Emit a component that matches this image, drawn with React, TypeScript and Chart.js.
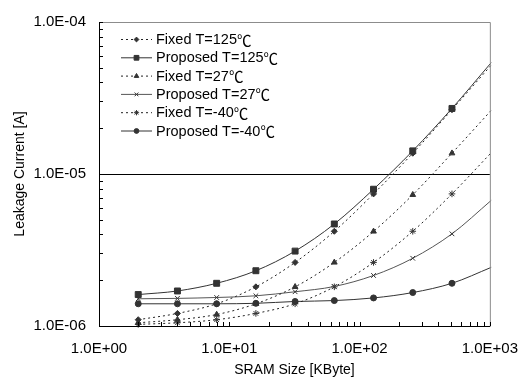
import React, { useEffect, useRef } from 'react';
import { Chart, registerables } from 'chart.js';
import { drawPoint } from 'chart.js/helpers';

Chart.register(...registerables);

// SRAM size in KByte (last point has no marker, curve runs to the frame edge)
const sizes = [2, 4, 8, 16, 32, 64, 128, 256, 512, 1024];
const fixed125 = [1.1e-6, 1.21e-6, 1.4e-6, 1.81e-6, 2.62e-6, 4.2e-6, 7.4e-6, 1.37e-5, 2.65e-5, 5.2e-5];
const proposed125 = [1.61e-6, 1.7e-6, 1.91e-6, 2.31e-6, 3.11e-6, 4.69e-6, 7.94e-6, 1.42e-5, 2.7e-5, 5.4e-5];
const fixed27 = [1.05e-6, 1.1e-6, 1.19e-6, 1.4e-6, 1.81e-6, 2.62e-6, 4.19e-6, 7.3e-6, 1.37e-5, 2.62e-5];
const proposed27 = [1.51e-6, 1.52e-6, 1.54e-6, 1.58e-6, 1.68e-6, 1.82e-6, 2.15e-6, 2.79e-6, 4.04e-6, 6.7e-6];
const fixedM40 = [1.025e-6, 1.05e-6, 1.1e-6, 1.21e-6, 1.4e-6, 1.81e-6, 2.62e-6, 4.2e-6, 7.4e-6, 1.38e-5];
const proposedM40 = [1.4e-6, 1.4e-6, 1.4e-6, 1.41e-6, 1.45e-6, 1.47e-6, 1.53e-6, 1.66e-6, 1.91e-6, 2.43e-6];

const seriesLabels = [
  'Fixed T=125℃',
  'Proposed T=125℃',
  'Fixed T=27℃',
  'Proposed T=27℃',
  'Fixed T=-40℃',
  'Proposed T=-40℃',
];

const xMajor = [1, 10, 100, 1000];

const FONT = '"Liberation Sans", Arial, sans-serif';
const CJK = '"Noto Sans CJK JP", "Noto Sans CJK SC", sans-serif';

function fmtExp(v: number): string {
  const e = Math.round(Math.log10(v));
  const sign = e < 0 ? '-' : '+';
  const a = Math.abs(e);
  return '1.0E' + sign + (a < 10 ? '0' + a : String(a));
}

function logTicks(minExp: number, maxExp: number) {
  const t: { value: number }[] = [];
  for (let e = minExp; e < maxExp; e++) {
    for (let m = 1; m <= 9; m++) t.push({ value: m * Math.pow(10, e) });
  }
  t.push({ value: Math.pow(10, maxExp) });
  return t;
}

function isMajor(v: number) {
  const l = Math.log10(v);
  return Math.abs(l - Math.round(l)) < 1e-6;
}

const frameAndTicks = {
  id: 'frameAndTicks',
  afterDraw(chart: any) {
    const { ctx, chartArea: a } = chart;
    const xs = chart.scales.x;
    const ys = chart.scales.y;
    ctx.save();
    ctx.strokeStyle = '#8c8c8c';
    ctx.lineWidth = 1;
    ctx.beginPath();
    ctx.moveTo(a.left, a.top + 0.5);
    ctx.lineTo(a.right + 0.5, a.top + 0.5);
    ctx.lineTo(a.right + 0.5, a.bottom);
    ctx.stroke();
    ctx.strokeStyle = '#000';
    ctx.beginPath();
    ctx.moveTo(a.left + 0.5, a.top);
    ctx.lineTo(a.left + 0.5, a.bottom + 0.5);
    ctx.lineTo(a.right + 0.5, a.bottom + 0.5);
    ctx.stroke();
    ctx.beginPath();
    ys.ticks.forEach((t: any) => {
      const p = Math.round(ys.getPixelForValue(t.value)) + 0.5;
      ctx.moveTo(a.left, p);
      ctx.lineTo(a.left + 4, p);
    });
    xs.ticks.forEach((t: any) => {
      const p = Math.round(xs.getPixelForValue(t.value)) + 0.5;
      ctx.moveTo(p, a.bottom);
      ctx.lineTo(p, a.bottom - 4);
    });
    ctx.stroke();
    ctx.restore();
  },
};

const legendPlugin = {
  id: 'customLegend',
  afterDraw(chart: any) {
    const { ctx } = chart;
    const x0 = 121;
    const x1 = 152;
    const textX = 156;
    const y0 = 39;
    const dy = 18.3;
    ctx.save();
    chart.data.datasets.forEach((ds: any, i: number) => {
      const y = y0 + i * dy;
      ctx.strokeStyle = ds.borderColor;
      ctx.lineWidth = ds.borderWidth;
      ctx.setLineDash(ds.borderDash || []);
      ctx.beginPath();
      ctx.moveTo(x0, y + 0.5);
      ctx.lineTo(x1, y + 0.5);
      ctx.stroke();
      ctx.setLineDash([]);
      ctx.fillStyle = ds.pointBackgroundColor;
      ctx.strokeStyle = ds.pointBorderColor;
      ctx.lineWidth = 1;
      drawPoint(ctx, { pointStyle: ds.pointStyle, radius: ds.legendRadius, borderWidth: 1, rotation: 0 }, (x0 + x1) / 2, y + 0.5);
      ctx.fillStyle = '#000';
      ctx.textBaseline = 'middle';
      ctx.textAlign = 'left';
      const label: string = ds.label;
      const idx = label.indexOf('℃');
      const main = idx >= 0 ? label.slice(0, idx) : label;
      ctx.font = '14.5px ' + FONT;
      ctx.fillText(main, textX, y + 1);
      if (idx >= 0) {
        const w = ctx.measureText(main).width;
        ctx.font = '14.5px ' + CJK;
        ctx.fillText('℃', textX + w, y + 1);
      }
    });
    ctx.restore();
  },
};

function makeDataset(label: string, values: number[], dotted: boolean, style: string, color: string, radius: number) {
  const radii = values.map((_, i) => (i === values.length - 1 ? 0 : radius));
  return {
    label,
    data: sizes.map((s, i) => ({ x: s, y: values[i] })),
    borderColor: color,
    borderWidth: 1,
    borderDash: dotted ? [2, 3] : [],
    pointStyle: style,
    pointRadius: radii,
    legendRadius: radius * 0.8,
    pointBackgroundColor: '#333',
    pointBorderColor: '#333',
    pointBorderWidth: 1,
    cubicInterpolationMode: 'monotone',
    fill: false,
    clip: 5,
  };
}

export default function App() {
  const ref = useRef<HTMLCanvasElement>(null);
  useEffect(() => {
    const datasets: any[] = [
      makeDataset(seriesLabels[0], fixed125, true, 'rectRot', '#222', 3),
      makeDataset(seriesLabels[1], proposed125, false, 'rect', '#333', 4.2),
      makeDataset(seriesLabels[2], fixed27, true, 'triangle', '#222', 3.3),
      makeDataset(seriesLabels[3], proposed27, false, 'crossRot', '#555', 3.3),
      makeDataset(seriesLabels[4], fixedM40, true, 'star', '#222', 3.3),
      makeDataset(seriesLabels[5], proposedM40, false, 'circle', '#333', 3),
    ];
    const chart = new Chart(ref.current as HTMLCanvasElement, {
      type: 'line',
      data: { datasets },
      options: {
        responsive: false,
        animation: false,
        events: [],
        layout: { padding: { top: 15, right: 34, left: 0, bottom: 0 } },
        plugins: { legend: { display: false }, tooltip: { enabled: false } },
        scales: {
          x: {
            type: 'logarithmic',
            min: 1,
            max: 1000,
            afterBuildTicks: (s: any) => {
              s.ticks = logTicks(0, 3);
            },
            afterFit: (s: any) => {
              s.height = 54;
            },
            border: { display: false },
            grid: { display: false, drawTicks: false },
            ticks: {
              autoSkip: false,
              maxRotation: 0,
              padding: 14,
              color: '#000',
              font: { family: FONT, size: 15 },
              callback: (v: any) => (xMajor.some((m) => Math.abs(m - Number(v)) < 1e-9) ? fmtExp(Number(v)) : ''),
            },
            title: {
              display: true,
              text: 'SRAM Size [KByte]',
              color: '#000',
              font: { family: FONT, size: 14 },
              padding: { top: 0, bottom: 1 },
            },
          },
          y: {
            type: 'logarithmic',
            min: 1e-6,
            max: 1e-4,
            afterBuildTicks: (s: any) => {
              s.ticks = logTicks(-6, -4);
            },
            afterFit: (s: any) => {
              s.width = 99;
            },
            border: { display: false },
            grid: {
              drawTicks: false,
              color: (c: any) => (c.tick && Math.abs(Math.log10(c.tick.value) + 5) < 1e-6 ? '#000' : 'rgba(0,0,0,0)'),
              lineWidth: 1,
            },
            ticks: {
              autoSkip: false,
              padding: 13,
              color: '#000',
              font: { family: FONT, size: 15 },
              callback: (v: any) => (isMajor(Number(v)) ? fmtExp(Number(v)) : ''),
            },
            title: {
              display: true,
              text: 'Leakage Current [A]',
              color: '#000',
              font: { family: FONT, size: 14 },
              padding: { top: 12, bottom: 0 },
            },
          },
        },
      },
      plugins: [frameAndTicks, legendPlugin],
    } as any);
    return () => chart.destroy();
  }, []);
  return (
    <div style={{ position: 'absolute', left: 0, top: 0, width: 532, height: 380, background: '#fff' }}>
      <canvas ref={ref} width={532} height={380} style={{ display: 'block' }} />
    </div>
  );
}
